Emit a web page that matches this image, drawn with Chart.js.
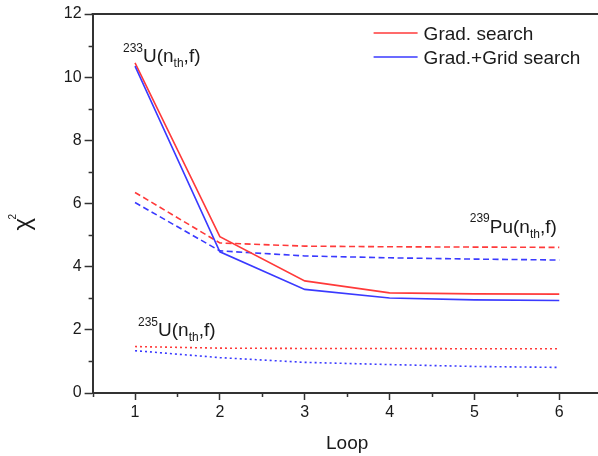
<!DOCTYPE html>
<html>
<head>
<meta charset="utf-8">
<script src="https://cdn.jsdelivr.net/npm/chart.js@4.4.1/dist/chart.umd.min.js"></script>
<style>
  html, body { margin: 0; padding: 0; background: #fff; overflow: hidden; }
  #wrap { width: 610px; height: 456px; }
</style>
</head>
<body>
<div id="wrap"><canvas id="chart" width="610" height="456"></canvas></div>
<script>
// chi^2 after each loop of the fit
const loops = [1, 2, 3, 4, 5, 6];
const methods = ["Grad. search", "Grad.+Grid search"];

const u233Grad = [10.45, 4.95, 3.55, 3.17, 3.14, 3.13];
const u233Grid = [10.35, 4.47, 3.28, 3.01, 2.95, 2.93];
const pu239Grad = [6.35, 4.75, 4.65, 4.63, 4.62, 4.61];
const pu239Grid = [6.03, 4.5, 4.34, 4.28, 4.24, 4.21];
const u235Grad = [1.47, 1.42, 1.41, 1.41, 1.40, 1.40];
const u235Grid = [1.34, 1.12, 0.97, 0.90, 0.84, 0.81];

const RED = "#ff3a3a";
const BLUE = "#3a3aff";
const AXIS = "#333";
const TEXT = "#1a1a1a";
const FONT = "'Liberation Sans', Arial, sans-serif";

// reaction labels, placed in data units
const notes = [
  { x: 0.858, y: 10.48, sup: "233", el: "U" },
  { x: 4.945, y: 5.07, sup: "239", el: "Pu" },
  { x: 1.035, y: 1.80, sup: "235", el: "U" },
];

function series(label, vals, color, dash) {
  return {
    label: label,
    data: loops.map((x, i) => ({ x: x, y: vals[i] })),
    borderColor: color,
    backgroundColor: color,
    borderWidth: 1.6,
    borderDash: dash,
    pointRadius: 0,
    fill: false,
    tension: 0,
  };
}

const DASH = [6, 3.5];
const DOT = [2, 3];

// draws frame top, minor ticks, legend, reaction labels, y title
const decor = {
  id: "decor",
  afterDraw(chart) {
    const { ctx, chartArea: ca, scales } = chart;
    const xs = scales.x, ys = scales.y;
    ctx.save();

    // top frame line
    ctx.strokeStyle = AXIS;
    ctx.lineWidth = 2;
    ctx.beginPath();
    ctx.moveTo(ca.left - 1, ca.top);
    ctx.lineTo(chart.width, ca.top);
    ctx.stroke();

    // minor ticks
    ctx.lineWidth = 1.5;
    ctx.beginPath();
    xs.ticks.forEach((t) => {
      if (Number.isInteger(t.value)) return;
      const px = Math.round(xs.getPixelForValue(t.value)) + 0.5;
      ctx.moveTo(px, ca.bottom);
      ctx.lineTo(px, ca.bottom + 4);
    });
    ys.ticks.forEach((t) => {
      if (t.value % 2 === 0) return;
      const py = Math.round(ys.getPixelForValue(t.value)) + 0.5;
      ctx.moveTo(ca.left, py);
      ctx.lineTo(ca.left - 4, py);
    });
    ctx.stroke();

    // legend
    const lx = ca.left + 281;
    [RED, BLUE].forEach((c, i) => {
      const ly = ca.top + 19 + i * 24;
      ctx.strokeStyle = c;
      ctx.lineWidth = 1.6;
      ctx.beginPath();
      ctx.moveTo(lx, ly);
      ctx.lineTo(lx + 44, ly);
      ctx.stroke();
      ctx.fillStyle = TEXT;
      ctx.font = "19px " + FONT;
      ctx.textBaseline = "alphabetic";
      ctx.textAlign = "left";
      ctx.fillText(methods[i], lx + 50, ly + 7);
    });

    // reaction labels like 233U(n_th,f)
    ctx.fillStyle = TEXT;
    ctx.textAlign = "left";
    ctx.textBaseline = "alphabetic";
    notes.forEach((n) => {
      let px = xs.getPixelForValue(n.x);
      const py = ys.getPixelForValue(n.y);
      ctx.font = "12px " + FONT;
      ctx.fillText(n.sup, px, py - 10.5);
      px += ctx.measureText(n.sup).width;
      ctx.font = "19px " + FONT;
      const a = n.el + "(n";
      ctx.fillText(a, px, py);
      px += ctx.measureText(a).width;
      ctx.font = "12px " + FONT;
      ctx.fillText("th", px, py + 5);
      px += ctx.measureText("th").width;
      ctx.font = "19px " + FONT;
      ctx.fillText(",f)", px, py);
    });

    // y axis title: chi^2, rotated
    ctx.translate(29.5, (ca.top + ca.bottom) / 2 + 27);
    ctx.rotate(-Math.PI / 2);
    ctx.font = "24px " + FONT;
    ctx.fillText("\u03c7", 0, 0);
    ctx.font = "10px " + FONT;
    ctx.fillText("2", 11, -14);

    ctx.restore();
  },
};

const ctx = document.getElementById("chart").getContext("2d");
new Chart(ctx, {
  type: "line",
  data: {
    datasets: [
      series("233U " + methods[1], u233Grid, BLUE, []),
      series("233U " + methods[0], u233Grad, RED, []),
      series("239Pu " + methods[1], pu239Grid, BLUE, DASH),
      series("239Pu " + methods[0], pu239Grad, RED, DASH),
      series("235U " + methods[1], u235Grid, BLUE, DOT),
      series("235U " + methods[0], u235Grad, RED, DOT),
    ],
  },
  options: {
    responsive: false,
    animation: false,
    devicePixelRatio: 1,
    layout: { padding: { top: 14, right: 8.3, left: 0, bottom: 0 } },
    plugins: {
      legend: { display: false },
      tooltip: { enabled: false },
    },
    scales: {
      x: {
        type: "linear",
        min: 0.5,
        max: 6.5,
        afterFit: (s) => { s.height = 63; },
        ticks: {
          stepSize: 0.5,
          autoSkip: false,
          maxRotation: 0,
          padding: 3,
          color: TEXT,
          font: { family: FONT, size: 16 },
          callback: (v) => (Number.isInteger(v) ? v : ""),
        },
        grid: {
          drawOnChartArea: false,
          drawTicks: true,
          tickLength: 7,
          tickWidth: 1.5,
          tickColor: (c) => (Number.isInteger(c.tick.value) ? AXIS : "transparent"),
        },
        border: { color: AXIS, width: 2 },
        title: {
          display: true,
          text: "Loop",
          color: TEXT,
          font: { family: FONT, size: 19 },
          padding: { top: 0, bottom: 1 },
        },
      },
      y: {
        min: 0,
        max: 12,
        afterFit: (s) => { s.width = 92.6; },
        ticks: {
          stepSize: 1,
          autoSkip: false,
          padding: 3,
          color: TEXT,
          font: { family: FONT, size: 16 },
          callback: (v) => (v % 2 === 0 ? v : ""),
        },
        grid: {
          drawOnChartArea: false,
          drawTicks: true,
          tickLength: 8,
          tickWidth: 1.5,
          tickColor: (c) => (c.tick.value % 2 === 0 ? AXIS : "transparent"),
        },
        border: { color: AXIS, width: 2 },
      },
    },
  },
  plugins: [decor],
});
</script>
</body>
</html>
